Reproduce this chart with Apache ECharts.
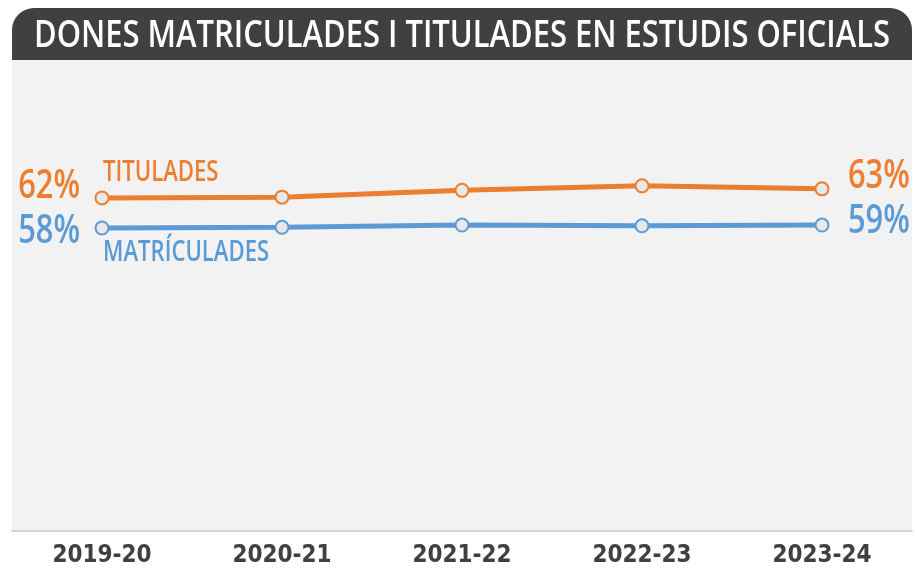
<!DOCTYPE html>
<html>
<head>
<meta charset="utf-8">
<script src="https://cdn.jsdelivr.net/npm/echarts@6/dist/echarts.min.js"></script>
<style>
  html, body { margin: 0; padding: 0; background: #ffffff; }
  #chart { width: 915px; height: 575px; }
</style>
</head>
<body>
<div id="chart"></div>
<script>
// Courses shown on the x axis
const courses = ['2019-20', '2020-21', '2021-22', '2022-23', '2023-24'];
// Share of women (%) among graduates and enrolled students
const titulades = [62.2, 62.3, 63.2, 63.8, 63.4];
const matriculades = [58.2, 58.3, 58.6, 58.5, 58.6];
const seriesNames = ['TITULADES', 'MATRÍCULADES'];
const chartTitle = 'DONES MATRICULADES I TITULADES EN ESTUDIS OFICIALS';

const ORANGE = '#ed7d31';
const BLUE = '#5b9bd5';
const FONT = '"Open Sans", "DejaVu Sans Condensed", sans-serif';
const AXIS_FONT = '"DejaVu Sans Condensed", "DejaVu Sans", sans-serif';
const NARROW = 0.79; // horizontal squeeze for the condensed look

const chart = echarts.init(document.getElementById('chart'));

// Scale factor so the title fills the header bar
function fitScale(text, font, target) {
  const ctx = document.createElement('canvas').getContext('2d');
  ctx.font = font;
  return target / ctx.measureText(text).width;
}
const TITLE_FONT = '600 38px ' + FONT;
const titleScale = fitScale(chartTitle, TITLE_FONT, 856);

function lineSeries(name, values, color) {
  return {
    name: name,
    type: 'line',
    data: values,
    symbol: 'circle',
    symbolSize: 13,
    lineStyle: { color: color, width: 5 },
    itemStyle: { color: '#e8e8e8', borderColor: color, borderWidth: 2 },
    z: 3
  };
}

// Percent labels at both ends of a line, plus the series name at the start
function labelSeries(name, values, color, dy, nameDy) {
  const last = values.length - 1;
  return {
    type: 'custom',
    coordinateSystem: 'cartesian2d',
    silent: true,
    z: 5,
    data: [[0, values[0]], [last, values[last]]],
    encode: { x: 0, y: 1 },
    renderItem: function (params, api) {
      const first = params.dataIndex === 0;
      const pt = api.coord([api.value(0), api.value(1)]);
      const children = [{
        type: 'text',
        x: first ? pt[0] - 22 : pt[0] + 26,
        y: pt[1] + (first ? dy[0] : dy[1]),
        scaleX: NARROW,
        style: {
          text: Math.round(api.value(1)) + '%',
          fill: color,
          font: '600 39px ' + FONT,
          align: first ? 'right' : 'left',
          verticalAlign: 'middle'
        }
      }];
      if (first) {
        children.push({
          type: 'text',
          x: pt[0] + 1,
          y: pt[1] + nameDy,
          scaleX: NARROW,
          style: {
            text: name,
            fill: color,
            font: '600 28px ' + FONT,
            align: 'left',
            verticalAlign: 'middle'
          }
        });
      }
      return { type: 'group', children: children };
    }
  };
}

chart.setOption({
  animation: false,
  backgroundColor: '#ffffff',
  grid: {
    left: 12, right: 3, top: 60, bottom: 44,
    show: true,
    backgroundColor: '#f2f2f2',
    borderWidth: 0
  },
  xAxis: {
    type: 'category',
    data: courses,
    boundaryGap: true,
    axisLine: { show: true, lineStyle: { color: '#d4d4d4', width: 2 } },
    axisTick: { show: false },
    axisLabel: {
      color: '#404040',
      fontFamily: AXIS_FONT,
      fontWeight: 'bold',
      fontSize: 24,
      margin: 13
    }
  },
  yAxis: {
    type: 'value',
    min: 18,
    max: 80.5,
    show: false,
    splitLine: { show: false }
  },
  series: [
    lineSeries(seriesNames[0], titulades, ORANGE),
    lineSeries(seriesNames[1], matriculades, BLUE),
    labelSeries(seriesNames[0], titulades, ORANGE, [-11, -12], -25),
    labelSeries(seriesNames[1], matriculades, BLUE, [4, -3], 25)
  ],
  graphic: [{
    type: 'group',
    x: 12,
    y: 8,
    children: [{
      type: 'rect',
      shape: { x: 0, y: 0, width: 900, height: 52, r: [22, 22, 0, 0] },
      style: { fill: '#404040' }
    }, {
      type: 'text',
      x: 450,
      y: 28.5,
      scaleX: titleScale,
      style: {
        text: chartTitle,
        fill: '#ffffff',
        font: TITLE_FONT,
        align: 'center',
        verticalAlign: 'middle'
      }
    }]
  }]
});
</script>
</body>
</html>
